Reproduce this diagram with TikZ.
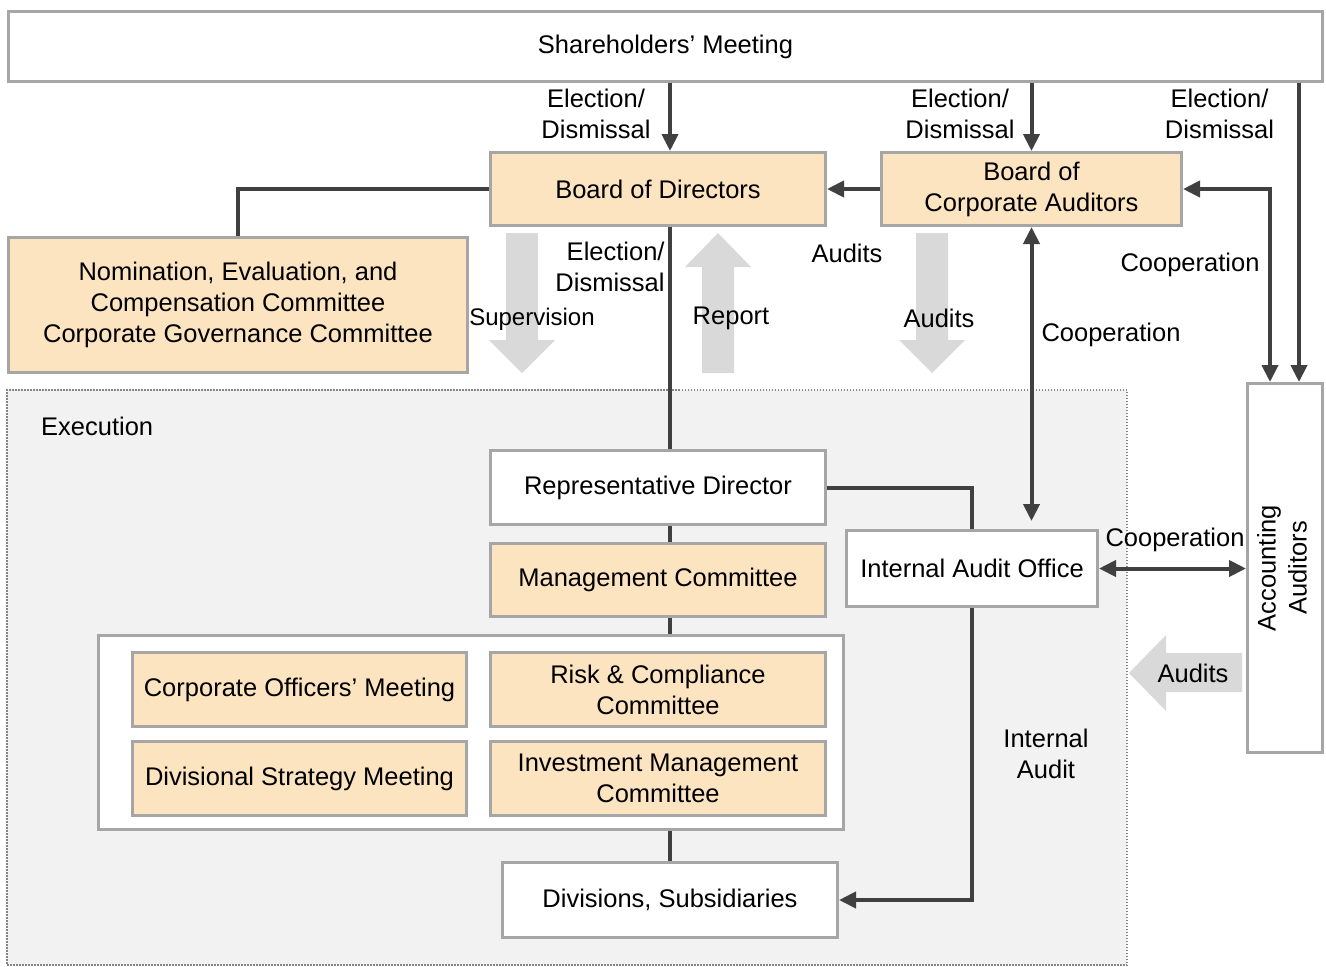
\documentclass[tikz,border=0pt]{standalone}
\usepackage{fontspec}
\setmainfont{Liberation Sans}
\usetikzlibrary{arrows.meta}
\usetikzlibrary{positioning}
\usetikzlibrary{calc}

\definecolor{peach}{HTML}{FCE4C1}
\definecolor{boxline}{HTML}{A6A6A6}
\definecolor{darkline}{HTML}{404040}
\definecolor{bigarrow}{HTML}{D9D9D9}
\definecolor{execbg}{HTML}{F2F2F2}

\begin{document}
\begin{tikzpicture}[x=1pt,y=-1pt,
  every node/.style={font=\fontsize{25.5}{31}\selectfont},
  box/.style={draw=boxline,line width=3pt,fill=white,align=center,inner sep=0pt},
  orgbox/.style={box,fill=peach},
  lbl/.style={align=center,inner sep=0pt},
  link/.style={draw=darkline,line width=4pt},
  arr/.style={link,-{Triangle[length=17pt,width=16pt]}},
  biarr/.style={link,{Triangle[length=17pt,width=16pt]}-{Triangle[length=17pt,width=16pt]}},
  fat/.style={fill=bigarrow}]
\useasboundingbox (0,0) rectangle (1326,967);

% execution area
\node[fill=execbg,draw=boxline!80!black,line width=1.5pt,dash pattern=on 1.5pt off 1.5pt,
  minimum width=1120pt,minimum height=575pt,inner sep=0pt] (exec) at (567,677.5) {};
\node[lbl,anchor=west] (exectxt) at (41,426) {Execution};

% top level
\node[box,minimum width=1314pt,minimum height=70pt] (sh) at (665.5,46.5) {Shareholders’ Meeting};
\node[orgbox,minimum width=335pt,minimum height=73pt] (bod) at (658,189) {Board of Directors};
\node[orgbox,minimum width=300pt,minimum height=73pt] (bca) at (1031.5,189) {Board of\\Corporate Auditors};
\node[orgbox,minimum width=459pt,minimum height=135pt] (nec) at (238,305)
  {Nomination, Evaluation, and\\Compensation Committee\\Corporate Governance Committee};
\node[box,minimum width=75pt,minimum height=369pt] (acc) at (1285,568)
  {\rotatebox{90}{\begin{tabular}{@{}c@{}}Accounting\\Auditors\end{tabular}}};

% execution side
\node[box,minimum width=335pt,minimum height=74pt] (rep) at (658,487.5) {Representative Director};
\node[orgbox,minimum width=335pt,minimum height=73pt] (mc) at (658,580) {Management Committee};
\node[box,minimum width=745pt,minimum height=194pt] (grp) at (471,732.5) {};
\node[orgbox,minimum width=334pt,minimum height=74pt] (com) at (299.5,689.5) {Corporate Officers’ Meeting};
\node[orgbox,minimum width=335pt,minimum height=74pt] (rcc) at (658,689.5) {Risk \& Compliance\\Committee};
\node[orgbox,minimum width=334pt,minimum height=74pt] (dsm) at (299.5,778.5) {Divisional Strategy Meeting};
\node[orgbox,minimum width=335pt,minimum height=74pt] (imc) at (658,778.5) {Investment Management\\Committee};
\node[box,minimum width=335pt,minimum height=75pt] (dv) at (670,900) {Divisions, Subsidiaries};
\node[box,minimum width=251pt,minimum height=76pt] (iao) at (972,568.5) {Internal Audit Office};

% big grey arrows
\fill[fat] (506,233) -- (538,233) -- (538,340) -- (555,340) -- (522,373) -- (489,340) -- (506,340) -- cycle;
\fill[fat] (718,233) -- (751,267) -- (734,267) -- (734,373) -- (702,373) -- (702,267) -- (685,267) -- cycle;
\fill[fat] (916,233) -- (948,233) -- (948,340) -- (965,340) -- (932,373) -- (899,340) -- (916,340) -- cycle;
\fill[fat] (1129,673) -- (1166,635) -- (1166,653) -- (1242,653) -- (1242,692) -- (1166,692) -- (1166,711) -- cycle;

% connectors
\coordinate (accin) at ([xshift=14pt]acc.north);
\coordinate (accco) at ([xshift=-15pt]acc.north);
\draw[arr] (sh.south -| dv.north) -- (bod.north -| dv.north);
\draw[arr] (sh.south -| bca.north) -- (bca.north);
\draw[arr] (sh.south -| accin) -- (accin);
\draw[biarr] (bca.east) -| (accco);
\draw[arr] (bca.west) -- (bod.east);
\draw[link] (bod.west) -| (nec.north);
\draw[link] (bod.south -| dv.north) -- (rep.north -| dv.north);
\draw[link] (rep.south -| dv.north) -- (mc.north -| dv.north);
\draw[link] (mc.south -| dv.north) -- (grp.north -| dv.north);
\draw[link] (grp.south -| dv.north) -- (dv.north);
\draw[biarr,shorten >=8pt] (bca.south) -- (bca.south |- iao.north);
\draw[link] (rep.east) -| (iao.north);
\draw[arr] (iao.south) |- (dv.east);
\draw[biarr] (iao.east) -- (iao.east -| acc.west);

% labels
\node[lbl] (ed1) at (596,114) {Election/\\Dismissal};
\node[lbl] (ed2) at (960,114) {Election/\\Dismissal};
\node[lbl] (ed3) at (1219.5,114) {Election/\\Dismissal};
\node[lbl,align=right] (ed4) at (610,267) {Election/\\Dismissal};
\node[lbl] (au1) at (847,253) {Audits};
\node[lbl,font=\fontsize{24}{31}\selectfont] (sup) at (532,319) {Supervision};
\node[lbl] (rpt) at (731,318) {Report};
\node[lbl] (au2) at (939,318) {Audits};
\node[lbl] (co1) at (1190,265) {Cooperation};
\node[lbl] (co2) at (1111,335) {Cooperation};
\node[lbl] (co3) at (1175,540) {Cooperation};
\node[lbl] (au3) at (1193,673) {Audits};
\node[lbl] (ia) at (1046,754) {Internal\\Audit};
\end{tikzpicture}
\end{document}
